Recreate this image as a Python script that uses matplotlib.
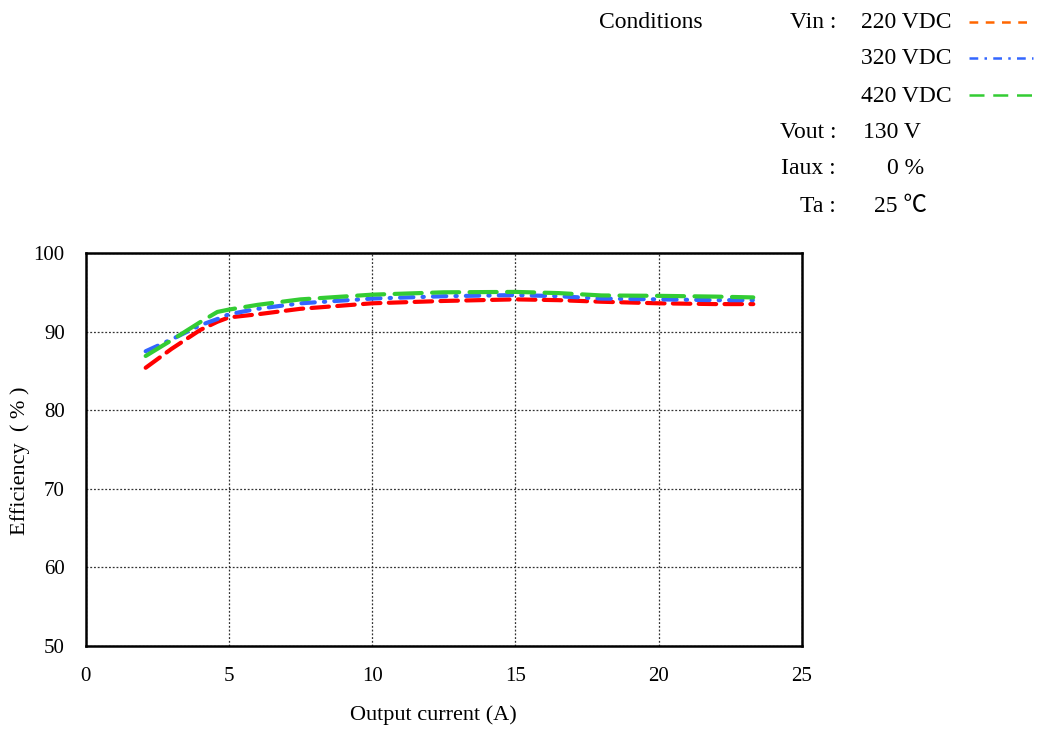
import matplotlib
matplotlib.use("Agg")
import matplotlib.pyplot as plt
from matplotlib.lines import Line2D

plt.rcParams['font.family'] = ['Liberation Serif', 'DejaVu Serif']

# Output current (A)
current = [2.1, 3.0, 4.0, 4.6, 5.0, 6.0, 7.5, 10.0, 12.5, 15.0, 16.5, 18.0, 20.0, 22.0, 23.3]
# Efficiency (%) per input voltage
eff_220 = [85.4, 87.8, 90.2, 91.25, 91.8, 92.2, 92.9, 93.6, 93.9, 94.1, 94.0, 93.8, 93.6, 93.5, 93.5]
eff_320 = [87.5, 89.0, 90.8, 91.6, 92.2, 92.9, 93.6, 94.2, 94.5, 94.65, 94.5, 94.2, 94.1, 94.0, 94.0]
eff_420 = [86.9, 88.9, 91.2, 92.5, 92.8, 93.4, 94.1, 94.7, 95.0, 95.05, 94.9, 94.6, 94.55, 94.45, 94.35]

x_ticks = [0, 5, 10, 15, 20, 25]
y_ticks = [50, 60, 70, 80, 90, 100]

W, H = 1045, 729
fig = plt.figure(figsize=(W / 100, H / 100), dpi=100)
ax = fig.add_axes([85.5 / W, 1 - 646 / H, (802 - 85.5) / W, (646 - 253) / H])

ax.plot(current, eff_220, color='#FF0000', lw=3.0, linestyle=(0, (4.2, 2.0)), dash_capstyle='round')
ax.plot(current, eff_320, color='#3366FF', lw=3.0, linestyle=(0, (3.2, 2.2, 0.3, 2.2)), dash_capstyle='round')
ax.plot(current, eff_420, color='#33CC33', lw=3.0, linestyle=(0, (6.5, 2.5)), dash_capstyle='round')

ax.set_xlim(0, 25)
ax.set_ylim(50, 100)
ax.set_xticks(x_ticks)
ax.set_yticks(y_ticks)
ax.tick_params(length=0, labelsize=15, pad=15)
ax.grid(True, color='#333333', linestyle=(0, (1.5, 1.5)), linewidth=0.9)
for s in ax.spines.values():
    s.set_linewidth(1.8)
    s.set_color('black')

fig.text(433 / W, 1 - 715 / H, 'Output current (A)', ha='center', va='center', fontsize=16)
fig.text(20 / W, 1 - 461 / H, 'Efficiency  ( % )', ha='center', va='center', rotation=90, fontsize=16)

# Test conditions block
fs = 17
rows = [23, 59, 96, 132, 169, 207]
fig.text(599 / W, 1 - rows[0] / H, 'Conditions', ha='left', va='center', fontsize=fs)
labels = ['Vin :', '', '', 'Vout :', 'Iaux :', 'Ta :']
values = ['220 VDC', '320 VDC', '420 VDC', '130 V', '0 %', '25 \u2103']
value_x = [861, 861, 861, 863, 887, 874]
for r, lab, val, vx in zip(rows, labels, values, value_x):
    if lab:
        fig.text(836 / W, 1 - r / H, lab, ha='right', va='center', fontsize=fs)
    fig.text(vx / W, 1 - r / H, val, ha='left', va='center', fontsize=fs,
             family=['Liberation Serif', 'Noto Sans CJK JP', 'DejaVu Serif'])

legend_styles = [
    ('#FF6600', (0, (3.5, 3.0))),
    ('#3366FF', (0, (3.5, 2.5, 1.0, 2.5))),
    ('#33CC33', (0, (6.0, 3.5))),
]
for r, (c, ls) in zip(rows[:3], legend_styles):
    y = 1 - (r - 1) / H
    fig.add_artist(Line2D([969 / W, 1033 / W], [y, y], color=c, lw=1.8, linestyle=ls,
                          transform=fig.transFigure))

fig.savefig('out.png', dpi=100)
